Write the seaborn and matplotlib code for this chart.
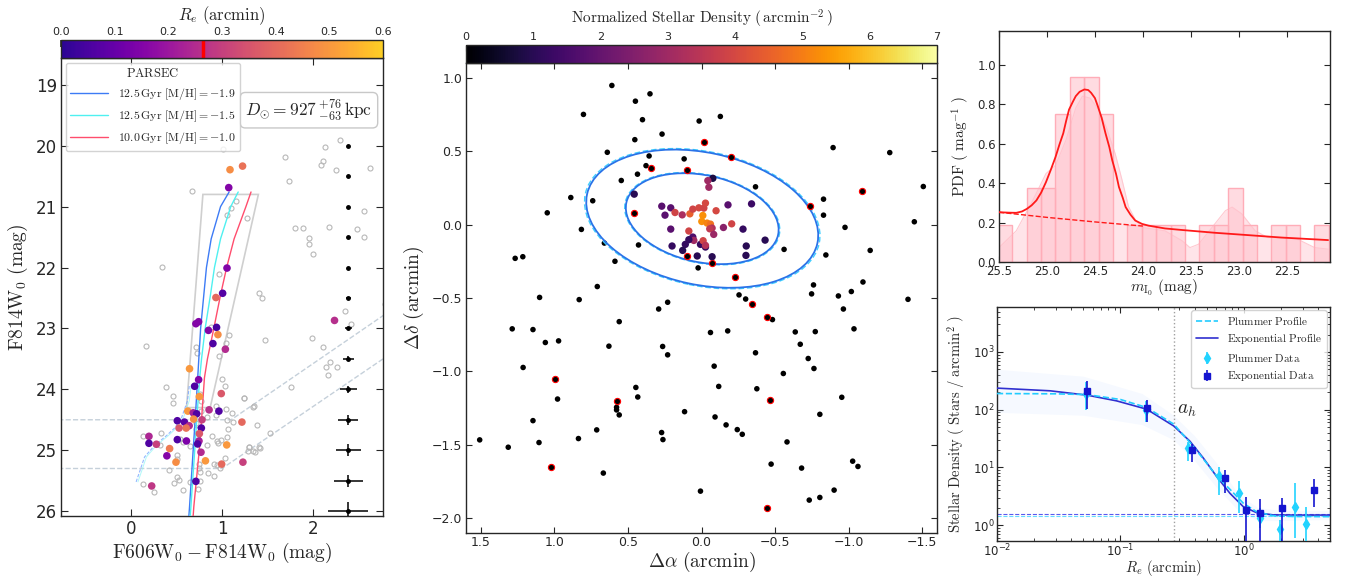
import matplotlib
matplotlib.use("Agg")
import matplotlib.pyplot as plt
import numpy as np
import pandas as pd
import seaborn as sns
from matplotlib.cm import ScalarMappable
from matplotlib.colors import ListedColormap, Normalize
from matplotlib.lines import Line2D
from matplotlib.patches import Ellipse, Polygon

# ── Data: colour-magnitude diagram ─────────────────────────────────────────

field_col = [1.010, 2.292, 2.132, 1.690, 2.107, 2.092, 2.248, 2.627, 1.735, 0.665, 1.152, 1.096,
             1.059, 1.271, 2.564, 1.802, 1.888, 2.178, 2.483, 2.564, 1.955, 1.955, 1.996, 0.342,
             0.966, 1.412, 1.442, 2.352, 2.787, 2.423, 0.877, 1.078, 1.987, 1.475, 1.044, 0.713,
             2.110, 0.160, 0.720, 0.966, 2.185, 2.144, 2.267, 2.162, 1.757, 1.237, 1.349, 1.386,
             1.524, 1.412, 1.301, 1.338, 0.386, 0.457, 0.465, 0.999, 1.033, 0.762, 0.773, 0.936,
             1.044, 1.107, 1.238, 1.345, 0.769, 0.836, 0.933, 1.052, 1.119, 1.063, 0.126, 0.331,
             0.320, 0.543, 0.576, 0.643, 0.714, 0.710, 0.892, 0.944, 0.959, 0.992, 1.059, 0.832,
             1.297, 1.360, 1.423, 1.290, 1.033, 0.948, 0.911, 0.981, 0.847, 0.907, 0.751, 0.747,
             0.762, 0.505, 0.505, 0.416, 0.509, 0.528, 0.468, 0.572, 0.732, 0.762, 0.126, 0.253,
             0.650]
field_mag = [20.046, 19.910, 20.019, 20.182, 20.248, 20.318, 20.400, 20.373, 20.585, 20.737, 20.916,
             21.025, 21.134, 21.183, 21.074, 21.351, 21.351, 21.341, 21.362, 21.498, 21.515, 21.607,
             21.770, 21.988, 22.107, 22.423, 22.493, 22.711, 22.602, 22.928, 22.983, 23.102, 23.157,
             23.189, 23.244, 23.298, 23.298, 23.287, 23.407, 23.450, 23.548, 23.630, 23.635, 23.766,
             23.956, 24.135, 24.282, 24.587, 24.717, 24.951, 24.940, 25.016, 23.961, 24.114, 24.228,
             23.836, 23.950, 24.081, 24.190, 24.271, 24.315, 24.391, 24.135, 24.288, 24.353, 24.462,
             24.424, 24.500, 24.532, 24.647, 24.772, 24.723, 24.908, 24.815, 24.870, 24.935, 24.652,
             24.560, 24.761, 24.853, 24.880, 24.831, 24.788, 24.908, 24.946, 25.027, 24.957, 25.005,
             25.125, 25.239, 25.234, 25.288, 25.381, 25.430, 25.234, 25.299, 25.359, 25.071, 25.141,
             25.332, 25.435, 25.484, 25.538, 25.647, 25.636, 25.511, 25.549, 25.685, 25.522]

member_col = [0.643, 0.743, 0.699, 0.751, 0.992, 0.858, 0.966, 0.624, 0.684, 0.721, 0.688, 0.780,
              0.509, 0.587, 0.639, 0.606, 0.528, 0.773, 0.751, 1.219, 0.197, 0.197, 0.279, 0.509,
              0.609, 0.747, 0.732, 1.052, 0.424, 0.769, 0.394, 0.818, 0.494, 0.996, 1.230, 0.713,
              0.227, 1.088, 1.226, 1.074, 1.055, 1.007, 0.933, 0.713, 0.743, 0.851, 0.940, 0.955,
              0.900, 1.037, 2.237]
member_mag = [23.662, 23.842, 23.950, 24.119, 24.070, 24.337, 24.358, 24.358, 24.386, 24.402, 24.489,
              24.500, 24.516, 24.538, 24.598, 24.636, 24.636, 24.636, 24.728, 24.538, 24.772, 24.886,
              24.902, 24.826, 24.848, 24.848, 24.897, 24.913, 24.973, 25.033, 25.092, 25.174, 25.196,
              25.228, 25.196, 25.511, 25.587, 20.394, 20.335, 20.688, 22.009, 22.423, 22.493, 22.923,
              22.890, 23.032, 22.983, 23.102, 23.249, 23.342, 22.869]
member_re = [0.50, 0.15, 0.06, 0.50, 0.36, 0.26, 0.06, 0.50, 0.22, 0.06, 0.48, 0.30,
             0.06, 0.08, 0.25, 0.42, 0.36, 0.06, 0.36, 0.40, 0.24, 0.06, 0.30, 0.06,
             0.14, 0.22, 0.06, 0.50, 0.44, 0.25, 0.15, 0.50, 0.48, 0.40, 0.30, 0.06,
             0.28, 0.48, 0.42, 0.15, 0.15, 0.07, 0.40, 0.15, 0.15, 0.15, 0.05, 0.48,
             0.06, 0.25, 0.26]

iso_labels = [r"$\mathrm{12.5\,Gyr\ [M/H]} = -1.9$",
              r"$\mathrm{12.5\,Gyr\ [M/H]} = -1.5$",
              r"$\mathrm{10.0\,Gyr\ [M/H]} = -1.0$"]
iso_mag = [20.76, 21.0, 21.53, 22.0, 22.45, 23.0, 23.5, 23.81, 24.5, 25.0, 25.93, 26.1]
iso_col_19 = [1.078, 0.984, 0.881, 0.829, 0.800, 0.765, 0.745, 0.733, 0.705, 0.683, 0.643, 0.635]
iso_col_15 = [1.178, 1.096, 0.984, 0.917, 0.873, 0.815, 0.775, 0.755, 0.722, 0.700, 0.658, 0.650]
iso_col_10 = [1.319, 1.263, 1.133, 1.051, 0.984, 0.910, 0.840, 0.807, 0.775, 0.750, 0.690, 0.682]
hb_col = [0.056, 0.149, 0.260, 0.390, 0.483, 0.557, 0.620, 0.643]
hb_mag = [25.52, 25.11, 24.92, 24.76, 24.63, 24.46, 24.19, 23.92]

box_col = [0.79, 1.40, 0.87, 0.61]
box_mag = [20.80, 20.80, 24.30, 24.30]

cut1_col = [-0.8, 1.10, 2.8]
cut1_mag = [24.50, 24.50, 22.76]
cut2_col = [-0.8, 1.00, 2.8]
cut2_mag = [25.30, 25.30, 23.47]

err_mag = [20.0, 20.5, 21.0, 21.5, 22.0, 22.5, 23.0, 23.5, 24.0, 24.5, 25.0, 25.5, 26.0]
err_col = [0.005, 0.005, 0.008, 0.010, 0.015, 0.025, 0.035, 0.060, 0.090, 0.110, 0.140, 0.160, 0.220]
err_magerr = [0.005, 0.005, 0.005, 0.008, 0.010, 0.020, 0.030, 0.040, 0.060, 0.080, 0.100, 0.100, 0.150]
err_x = 2.39
re_half = 0.265

# ── Data: spatial map ──────────────────────────────────────────────────────

field_ra = [0.609, 0.350, 0.449, 0.802, 0.401, 0.016, 0.268, 0.453, 0.640, 0.356, 0.118, 0.377,
            0.435, 0.545, 0.888, 0.739, 1.048, 0.816, 0.660, 0.428, 1.266, 1.214, 0.588, 0.023,
            0.708, 1.100,
            -0.128, -0.894, -1.279, -0.367, -1.507, -0.829, -0.829, -0.975, -1.446, -0.561,
            -0.845, -1.146, -0.761, -1.097, -0.748, -1.018, -0.930, -0.255,
            0.831, 0.230, 0.291, 0.559, 1.286, 1.145, 1.061, 0.971, 0.629, 0.264, 0.230, 1.212,
            0.446, 0.433, 0.978, 0.577, 0.577, 0.559, 0.115, 1.145, 0.712, 0.271, 0.262, 1.507,
            1.313, 1.104, 0.836, 0.667, 0.007,
            -0.300, -1.403, -0.964, -0.482, -1.036, -0.061, -0.178, -0.637, -0.773, -0.671,
            -0.367, -0.725, -0.764, -0.086, -0.556, -0.117, -0.376, -0.953, -0.804, -0.092,
            -0.167, -0.243, -0.277, -0.581, -1.027, -1.063, -0.473, -0.680, -0.901, -0.804, -0.732]
field_dec = [0.947, 0.890, 0.840, 0.750, 0.714, 0.705, 0.616, 0.578, 0.492, 0.467, 0.447, 0.401,
             0.343, 0.300, 0.184, 0.162, 0.080, -0.033, -0.126, -0.139, -0.230, -0.219, -0.250,
             -0.295, -0.422, -0.496,
             0.736, 0.524, 0.490, 0.257, 0.259, 0.173, 0.064, -0.019, 0.019, -0.169,
             -0.207, -0.176, -0.411, -0.391, -0.472, -0.456, -0.486, -0.479,
             -0.511, -0.529, -0.575, -0.661, -0.710, -0.715, -0.803, -0.792, -0.828, -0.830, -0.887,
             -0.973, -1.109, -1.174, -1.188, -1.244, -1.262, -1.296, -1.274, -1.335, -1.398, -1.416,
             -1.464, -1.466, -1.516, -1.484, -1.457, -1.692, -1.815,
             -0.507, -0.509, -0.575, -0.647, -0.710, -0.735, -0.724, -0.731, -0.729, -0.815,
             -0.873, -0.912, -0.980, -0.964, -1.014, -1.102, -1.118, -1.176, -1.292, -1.310,
             -1.364, -1.396, -1.428, -1.480, -1.611, -1.647, -1.631, -1.658, -1.808, -1.858, -1.876]

# members coloured by local density
mem_ra = [-0.077, -0.043, -0.050, 0.457, 0.270, 0.209, 0.248, 0.180, 0.131, 0.079, 0.059, 0.018,
          -0.016, -0.027, -0.009, -0.002, -0.038, -0.061, -0.072, -0.056, -0.083, -0.099, -0.180,
          -0.340, -0.149, -0.205, -0.282, 0.209, 0.086, 0.059, 0.052, 0.086, 0.110, 0.200, 0.128,
          0.007, -0.011, -0.027, -0.027, 0.029, -0.072, -0.304, -0.302, -0.432]
mem_dec = [0.315, 0.299, 0.254, 0.207, 0.125, 0.114, 0.064, 0.082, 0.066, 0.073, 0.105, 0.114,
           0.112, 0.146, 0.062, 0.021, 0.010, 0.003, -0.024, -0.029, -0.067, 0.094, 0.134,
           0.141, -0.020, 0.005, -0.031, -0.031, -0.044, -0.085, -0.108, -0.103, -0.135, -0.146,
           -0.176, -0.135, -0.110, -0.153, -0.142, -0.214, -0.219, -0.146, -0.210, -0.106]
mem_density = [0.8, 3.0, 3.0, 1.0, 1.8, 1.8, 1.8, 3.9, 3.2, 4.5, 3.9, 4.0,
               3.9, 4.0, 5.3, 5.3, 5.1, 4.8, 3.3, 3.6, 2.9, 4.0, 1.8,
               1.3, 2.6, 3.9, 1.2, 1.8, 3.9, 1.6, 3.0, 1.2, 1.2, 1.2,
               1.0, 1.2, 3.9, 1.2, 3.4, 1.0, 1.0, 1.0, 1.0, 1.0]
# members with negligible density (black, red rim)
low_ra = [0.099, -0.068, -0.014, -0.203, 0.340, 0.097, -0.737, -0.227, -0.340, -0.444, 0.459,
          -1.092, 0.998, 0.577, 1.025, -0.462, -0.446]
low_dec = [-0.214, -0.264, 0.564, 0.462, 0.383, 0.372, 0.123, -0.354, -0.540, -0.628, 0.078,
           0.227, -1.054, -1.199, -1.654, -1.192, -1.928]

ell_center = (-0.005, 0.04)
ell_axes = [(0.527, 0.296), (0.80, 0.45)]
ell_pa = 12.0

# ── Data: TRGB luminosity function ─────────────────────────────────────────

hist_edges = [22.062, 22.212, 22.362, 22.512, 22.662, 22.812, 22.962, 23.112, 23.262, 23.412,
              23.562, 23.712, 23.862, 24.012, 24.162, 24.312, 24.462, 24.612, 24.762, 24.912,
              25.062, 25.212, 25.362, 25.512]
hist_pdf = [0.1875, 0.0, 0.1875, 0.1875, 0.0, 0.1875, 0.375, 0.1875, 0.1875, 0.0,
            0.1875, 0.1875, 0.1875, 0.1875, 0.0, 0.75, 0.9375, 0.9375, 0.75, 0.375,
            0.375, 0.0, 0.1875]

kde_m = [25.5, 25.32, 25.15, 25.01, 24.91, 24.80, 24.70, 24.63, 24.55, 24.46, 24.38, 24.29,
         24.22, 24.15, 24.08, 24.01, 23.77, 23.59, 23.51, 23.42, 23.28, 23.14, 23.07, 22.97,
         22.83, 22.70, 22.56, 22.39, 22.21, 22.07]
kde_pdf = [0.073, 0.158, 0.310, 0.448, 0.490, 0.620, 0.780, 0.840, 0.830, 0.770, 0.680, 0.550,
           0.420, 0.280, 0.215, 0.175, 0.158, 0.107, 0.073, 0.090, 0.175, 0.260, 0.278, 0.244,
           0.158, 0.124, 0.121, 0.116, 0.073, 0.065]

model_m = [25.50, 25.40, 25.32, 25.26, 25.21, 25.16, 25.11, 25.06, 25.01, 24.96, 24.91, 24.87,
           24.83, 24.80, 24.77, 24.73, 24.70, 24.66, 24.61, 24.57, 24.54, 24.50, 24.47, 24.43,
           24.39, 24.35, 24.32, 24.28, 24.25, 24.21, 24.18, 24.13, 24.08, 24.01, 23.94, 23.77,
           23.59, 23.25, 22.90, 22.56, 22.07]
model_pdf = [0.252, 0.250, 0.249, 0.256, 0.269, 0.287, 0.312, 0.352, 0.405, 0.467, 0.533, 0.595,
             0.652, 0.715, 0.772, 0.812, 0.840, 0.862, 0.874, 0.871, 0.857, 0.830, 0.789, 0.730,
             0.652, 0.582, 0.516, 0.446, 0.380, 0.325, 0.278, 0.240, 0.210, 0.193, 0.184, 0.170,
             0.162, 0.148, 0.136, 0.124, 0.111]
bg_m = [25.5, 25.0, 24.5, 24.0]
bg_pdf = [0.252, 0.226, 0.203, 0.182]

# ── Data: radial profile ───────────────────────────────────────────────────

exp_r = [0.054, 0.163, 0.381, 0.70, 1.04, 1.35, 2.04, 3.71]
exp_d = [207, 106, 19.6, 6.5, 1.83, 1.64, 1.96, 4.08]
exp_lo = [103, 61, 12.4, 3.6, 0.3, 0.3, 0.3, 2.09]
exp_hi = [314, 145, 24.9, 9.1, 3.04, 2.84, 3.0, 6.35]

plu_r = [0.053, 0.16, 0.356, 0.63, 0.91, 1.36, 1.98, 2.59, 3.22]
plu_d = [190, 100, 21.8, 7.0, 3.66, 1.31, 0.85, 2.09, 1.04]
plu_lo = [100, 60, 13, 3.3, 1.64, 0.9, 0.3, 0.59, 0.3]
plu_hi = [300, 140, 28, 10, 5.9, 1.96, 1.22, 5.3, 2.09]

exp_model_r = [0.01, 0.0269, 0.054, 0.093, 0.163, 0.271, 0.366, 0.469, 0.601, 0.771, 0.99,
               1.27, 1.73, 2.5, 5.0]
exp_model_d = [236, 212, 178, 142, 102, 52, 28.4, 14.6, 7.0, 3.57, 2.09, 1.64, 1.50, 1.49, 1.49]
plu_model_r = [0.01, 0.03, 0.054, 0.10, 0.163, 0.271, 0.366, 0.47, 0.60, 0.77, 0.99, 1.27,
               1.73, 2.5, 5.0]
plu_model_d = [190, 188, 182, 150, 109, 56, 27, 14, 7.2, 4.2, 2.4, 1.7, 1.45, 1.41, 1.40]
band_r = [0.01, 0.05, 0.15, 0.27, 0.40, 0.60, 0.90, 1.30, 2.0, 5.0]
band_lo = [90, 80, 55, 30, 13, 4.5, 1.8, 1.2, 1.2, 1.25]
band_hi = [500, 380, 190, 80, 35, 12, 3.5, 2.0, 1.8, 1.8]
bg_exp = 1.54
bg_plu = 1.42
a_h = 0.27

# ── Style ──────────────────────────────────────────────────────────────────

sns.set_style("ticks")
plt.rcParams["font.family"] = ["DejaVu Sans"]
plt.rcParams["mathtext.fontset"] = "cm"
plt.rcParams["axes.linewidth"] = 1.0

W, H = 1345, 576
fig = plt.figure(figsize=(W / 100, H / 100), dpi=100)

plasma_cut = ListedColormap(plt.get_cmap("plasma")(np.linspace(0.05, 0.9, 256)))


def px_axes(x0, y0, x1, y1):
    return fig.add_axes([x0 / W, 1 - y1 / H, (x1 - x0) / W, (y1 - y0) / H])


def inward(ax, size=9, length=4, pad=3):
    ax.tick_params(which="both", direction="in", top=True, right=True, labelsize=size, pad=pad)
    ax.tick_params(which="major", length=length)
    ax.tick_params(which="minor", length=2)


# ── Panel 1: CMD ───────────────────────────────────────────────────────────

ax1 = px_axes(61, 58, 383, 516)
ax1.add_patch(Polygon(list(zip(box_col, box_mag)), closed=True, fill=False,
                      edgecolor="#cfcfcf", lw=1.2, zorder=1))
for cc, cm in [(cut1_col, cut1_mag), (cut2_col, cut2_mag)]:
    ax1.plot(cc, cm, ls="--", color="#c5d0da", lw=1.0, zorder=1)

ax1.plot(field_col, field_mag, "o", ms=3.6, mfc="none", mec="#b8b8b8", mew=0.8, zorder=2)

iso_colors = ["#3d7bf5", "#4ff0f0", "#ff4d6d"]
for cols, colr, lab in zip([iso_col_19, iso_col_15, iso_col_10], iso_colors, iso_labels):
    sns.lineplot(x=cols, y=iso_mag, sort=False, estimator=None, color=colr, lw=1.0,
                 label=lab, ax=ax1, zorder=3)
ax1.plot(hb_col, hb_mag, color="#7aa7ff", lw=0.8, ls=(0, (3, 1.5)), alpha=0.8, zorder=3)
ax1.plot([c + 0.02 for c in hb_col], hb_mag, color="#8ff5f5", lw=0.7, alpha=0.7, zorder=3)

cmd = pd.DataFrame({"col": member_col, "mag": member_mag, "re": member_re})
sns.scatterplot(data=cmd, x="col", y="mag", hue="re", palette=plasma_cut, hue_norm=(0, 0.6),
                s=30, edgecolor="none", legend=False, ax=ax1, zorder=4)

ax1.errorbar([err_x] * len(err_mag), err_mag, xerr=err_col, yerr=err_magerr, fmt="o",
             ms=2.5, color="k", lw=1.1, capsize=0, zorder=5)

ax1.set_xlim(-0.77, 2.77)
ax1.set_ylim(26.08, 18.56)
ax1.set_xticks([0, 1, 2])
ax1.set_yticks(range(19, 27))
inward(ax1, size=12, length=5)
ax1.set_xlabel(r"$\mathrm{F606W_0 - F814W_0\ (mag)}$", fontsize=14, labelpad=2)
ax1.set_ylabel(r"$\mathrm{F814W_0\ (mag)}$", fontsize=14)
leg = ax1.legend(title=r"$\mathrm{PARSEC}$", loc="upper left", fontsize=8.5, title_fontsize=9,
                 frameon=True, fancybox=True, edgecolor="#c8c8c8", handlelength=3.2,
                 borderaxespad=0.4)
leg.get_frame().set_linewidth(1.0)
ax1.text(0.77, 0.886, r"$D_{\odot} = 927\,^{+76}_{-63}\,\mathrm{kpc}$", transform=ax1.transAxes,
         ha="center", va="center", fontsize=12.5,
         bbox=dict(boxstyle="round,pad=0.3", fc="white", ec="#c8c8c8", lw=1.0))

cax1 = px_axes(61, 40, 383, 58)
sm1 = ScalarMappable(norm=Normalize(0, 0.6), cmap=plasma_cut)
cb1 = fig.colorbar(sm1, cax=cax1, orientation="horizontal")
cax1.xaxis.set_ticks_position("top")
cax1.xaxis.set_label_position("top")
cb1.set_ticks([0, 0.1, 0.2, 0.3, 0.4, 0.5, 0.6])
cb1.set_ticklabels(["0.0", "0.1", "0.2", "0.3", "0.4", "0.5", "0.6"])
cax1.tick_params(direction="in", labelsize=8, length=5, width=1.2, pad=2)
cb1.set_label(r"$R_e\ \mathrm{(arcmin)}$", fontsize=12, labelpad=5)
cax1.axvline(re_half, color="red", lw=2.5)

# ── Panel 2: spatial distribution ──────────────────────────────────────────

ax2 = px_axes(466, 63, 937, 533)
sns.scatterplot(x=field_ra, y=field_dec, color="black", s=16, edgecolor="none", ax=ax2, zorder=2)
for (a, b) in ell_axes:
    ax2.add_patch(Ellipse(ell_center, 2 * a * 1.015, 2 * b * 1.015, angle=ell_pa, fill=False,
                          ec="#3fcfff", lw=1.0, ls=(0, (4, 2)), zorder=3))
    ax2.add_patch(Ellipse(ell_center, 2 * a, 2 * b, angle=ell_pa, fill=False,
                          ec="#2a73e8", lw=1.3, zorder=3))
sns.scatterplot(x=low_ra, y=low_dec, color="black", s=20, edgecolor="red", linewidth=0.8,
                ax=ax2, zorder=4)
sp = pd.DataFrame({"ra": mem_ra, "dec": mem_dec, "dens": mem_density})
sns.scatterplot(data=sp, x="ra", y="dec", hue="dens", palette="inferno", hue_norm=(0, 7),
                s=28, edgecolor="none", legend=False, ax=ax2, zorder=5)
ax2.set_xlim(1.6, -1.6)
ax2.set_ylim(-2.1, 1.1)
ax2.set_xticks([1.5, 1.0, 0.5, 0.0, -0.5, -1.0, -1.5])
ax2.set_yticks([1.0, 0.5, 0.0, -0.5, -1.0, -1.5, -2.0])
inward(ax2, size=9, length=4, pad=2.5)
ax2.set_xlabel(r"$\Delta\alpha\ \mathrm{(arcmin)}$", fontsize=14, labelpad=0)
ax2.set_ylabel(r"$\Delta\delta\ \mathrm{(arcmin)}$", fontsize=14)

cax2 = px_axes(466, 45, 937, 63)
sm2 = ScalarMappable(norm=Normalize(0, 7), cmap="inferno")
cb2 = fig.colorbar(sm2, cax=cax2, orientation="horizontal")
cax2.xaxis.set_ticks_position("top")
cax2.xaxis.set_label_position("top")
cb2.set_ticks(range(0, 8))
cax2.tick_params(direction="in", labelsize=8, length=4, pad=2)
cb2.set_label(r"$\mathrm{Normalized\ Stellar\ Density\ (\,arcmin^{-2}\,)}$", fontsize=11,
              labelpad=6)

# ── Panel 3: TRGB ──────────────────────────────────────────────────────────

ax3 = px_axes(999, 31, 1330, 262)
ax3.fill_between(kde_m, 0, kde_pdf, color="#ffe4e9", lw=0, zorder=1)
ax3.plot(kde_m, kde_pdf, color="#ffc9d1", lw=0.8, zorder=1)
centers = [(lo + hi) / 2 for lo, hi in zip(hist_edges[:-1], hist_edges[1:])]
sns.histplot(x=centers, weights=hist_pdf, bins=hist_edges, color="#ffc3cd", edgecolor="#ffadb8",
             linewidth=1.0, alpha=0.6, ax=ax3, zorder=2)
ax3.plot(bg_m, bg_pdf, color="#ff1a1a", lw=1.0, ls="--", zorder=3)
sns.lineplot(x=model_m, y=model_pdf, sort=False, estimator=None, color="#ff1a1a", lw=1.3,
             ax=ax3, zorder=4)
ax3.set_xlim(25.5, 22.05)
ax3.set_ylim(0, 1.17)
ax3.set_xticks([25.5, 25.0, 24.5, 24.0, 23.5, 23.0, 22.5])
ax3.set_yticks([0.0, 0.2, 0.4, 0.6, 0.8, 1.0])
inward(ax3, size=8.5, length=4, pad=2)
ax3.set_xlabel(r"$m_{\mathrm{I}_0}\ \mathrm{(mag)}$", fontsize=11, labelpad=0)
ax3.set_ylabel(r"$\mathrm{PDF\ (\ mag^{-1}\ )}$", fontsize=11)

# ── Panel 4: radial profile ────────────────────────────────────────────────

ax4 = px_axes(997, 307, 1330, 541)
ax4.fill_between(band_r, band_lo, band_hi, color="#d6e6ff", alpha=0.22, lw=0, zorder=1)
ax4.axvline(a_h, color="#a0a0a0", ls=":", lw=1.0, zorder=1)
ax4.axhline(bg_exp, color="#5a5aee", ls="--", lw=0.8, zorder=1)
ax4.axhline(bg_plu, color="#66ddff", ls="--", lw=0.8, zorder=1)
sns.lineplot(x=exp_model_r, y=exp_model_d, sort=False, estimator=None, color="#3030d0", lw=1.2,
             ax=ax4, zorder=3)
sns.lineplot(x=plu_model_r, y=plu_model_d, sort=False, estimator=None, color="#22ccff", lw=1.2,
             ls="--", ax=ax4, zorder=3)
pl_err = [np.subtract(plu_d, plu_lo), np.subtract(plu_hi, plu_d)]
ex_err = [np.subtract(exp_d, exp_lo), np.subtract(exp_hi, exp_d)]
h_pd = ax4.errorbar(plu_r, plu_d, yerr=pl_err, fmt="d", ms=5.5, color="#22d3ff", lw=1.2,
                    capsize=0, zorder=4)
h_ed = ax4.errorbar(exp_r, exp_d, yerr=ex_err, fmt="s", ms=4.5, color="#1515d0", lw=1.2,
                    capsize=0, zorder=5)
ax4.text(0.29, 100, r"$a_h$", fontsize=14, ha="left", va="center")
ax4.set_xscale("log")
ax4.set_yscale("log")
ax4.set_xlim(0.01, 5.0)
ax4.set_ylim(0.53, 6000)
inward(ax4, size=8.5, length=4, pad=1.5)
ax4.set_xlabel(r"$R_e\ \mathrm{(arcmin)}$", fontsize=10.5, labelpad=-1)
ax4.set_ylabel(r"$\mathrm{Stellar\ Density\ (\ Stars\ /\ arcmin^2\ )}$", fontsize=10.5)
handles = [Line2D([], [], color="#22ccff", ls="--", lw=1.2),
           Line2D([], [], color="#3030d0", lw=1.2), h_pd, h_ed]
labels = [r"$\mathrm{Plummer\ Profile}$", r"$\mathrm{Exponential\ Profile}$",
          r"$\mathrm{Plummer\ Data}$", r"$\mathrm{Exponential\ Data}$"]
ax4.legend(handles, labels, loc="upper right", fontsize=8, frameon=True, fancybox=True,
           edgecolor="#c8c8c8", borderaxespad=0.3)

fig.savefig("out.png", dpi=100)
